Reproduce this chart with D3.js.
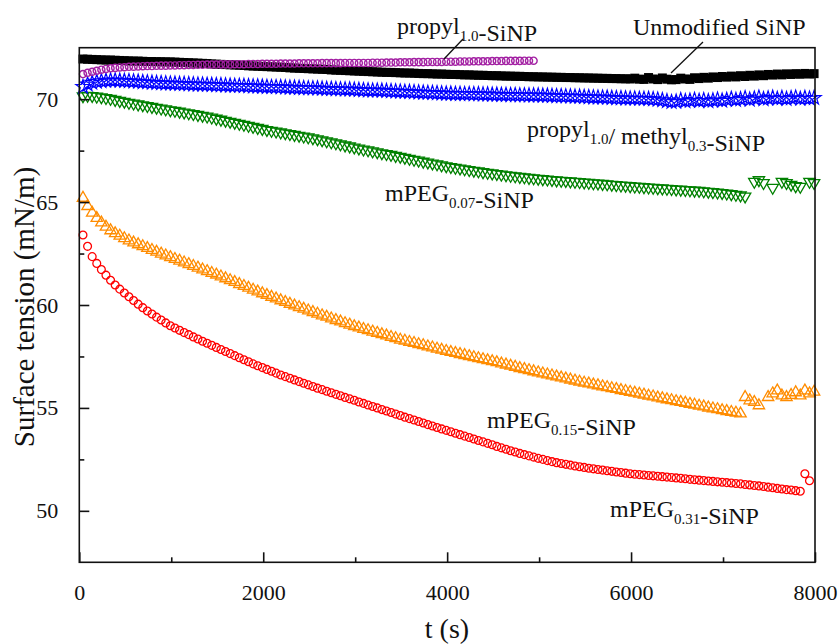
<!DOCTYPE html>
<html>
<head>
<meta charset="utf-8">
<script src="https://cdn.jsdelivr.net/npm/d3@7"></script>
<style>
  body { margin: 0; background: #fff; }
  svg text { font-family: "Liberation Serif", "Times New Roman", serif; fill: #111; }
</style>
</head>
<body>
<svg id="chart" width="840" height="644"></svg>
<script>
// ---- data: sample times start at T0 and advance by DT seconds ----
const T0 = 40;
const DT = 50;

// Unmodified SiNP (black filled squares)
const unmodified = [
71.95,71.94,71.93,71.92,71.91,71.90,71.90,71.89,71.88,71.87,
71.86,71.85,71.85,71.84,71.83,71.83,71.82,71.82,71.81,71.81,
71.80,71.79,71.78,71.77,71.76,71.75,71.74,71.73,71.71,71.70,
71.69,71.68,71.67,71.66,71.65,71.64,71.62,71.61,71.60,71.59,
71.58,71.57,71.56,71.55,71.54,71.52,71.51,71.50,71.49,71.48,
71.47,71.46,71.45,71.44,71.42,71.41,71.40,71.39,71.38,71.37,
71.36,71.35,71.34,71.33,71.32,71.31,71.30,71.30,71.29,71.28,
71.27,71.27,71.26,71.25,71.24,71.24,71.23,71.22,71.22,71.21,
71.20,71.20,71.19,71.18,71.18,71.17,71.16,71.16,71.15,71.14,
71.14,71.13,71.12,71.12,71.11,71.11,71.10,71.09,71.09,71.08,
71.08,71.07,71.07,71.06,71.06,71.05,71.05,71.04,71.04,71.03,
71.03,71.02,71.02,71.01,71.01,71.00,71.00,70.99,70.99,70.98,
71.02,70.97,70.96,71.05,70.98,70.95,71.03,70.97,70.94,70.95,
71.02,70.98,70.96,71.04,71.00,71.06,71.02,71.08,71.05,71.10,
71.07,71.12,71.08,71.14,71.10,71.16,71.12,71.18,71.14,71.20,
71.17,71.22,71.18,71.23,71.20,71.24,71.21,71.25,71.22,71.24
];

// propyl1.0-SiNP (purple open circles)
const propyl = [
71.22,71.28,71.33,71.38,71.43,71.47,71.50,71.52,71.54,71.55,
71.57,71.58,71.59,71.60,71.61,71.61,71.62,71.63,71.63,71.64,
71.64,71.65,71.65,71.66,71.66,71.67,71.67,71.68,71.68,71.68,
71.69,71.69,71.69,71.70,71.70,71.70,71.71,71.71,71.71,71.72,
71.72,71.72,71.72,71.73,71.73,71.73,71.73,71.74,71.74,71.74,
71.74,71.74,71.75,71.75,71.75,71.75,71.75,71.76,71.76,71.76,
71.76,71.76,71.76,71.77,71.77,71.77,71.78,71.78,71.78,71.79,
71.79,71.79,71.80,71.80,71.80,71.81,71.81,71.81,71.81,71.82,
71.82,71.82,71.83,71.83,71.83,71.84,71.84,71.84,71.84,71.85,
71.85,71.85,71.86,71.86,71.86,71.86,71.87,71.87,71.87
];

// propyl1.0/methyl0.3-SiNP (blue open stars)
const propylMethyl = [
70.60,70.72,70.80,70.85,70.88,70.90,70.91,70.91,70.90,70.89,
70.88,70.86,70.85,70.83,70.82,70.80,70.79,70.78,70.77,70.76,
70.75,70.74,70.74,70.73,70.72,70.71,70.71,70.70,70.69,70.68,
70.68,70.67,70.66,70.65,70.65,70.64,70.63,70.62,70.62,70.61,
70.60,70.59,70.59,70.58,70.57,70.56,70.56,70.55,70.54,70.53,
70.53,70.52,70.51,70.50,70.50,70.49,70.48,70.47,70.47,70.46,
70.45,70.44,70.43,70.42,70.42,70.41,70.40,70.39,70.38,70.37,
70.36,70.35,70.34,70.33,70.32,70.31,70.30,70.29,70.28,70.27,
70.27,70.26,70.26,70.25,70.25,70.24,70.24,70.23,70.23,70.22,
70.22,70.21,70.21,70.20,70.20,70.19,70.19,70.18,70.18,70.18,
70.17,70.17,70.16,70.15,70.15,70.14,70.13,70.12,70.12,70.11,
70.10,70.09,70.08,70.08,70.07,70.06,70.05,70.05,70.04,70.03,
70.03,70.02,70.02,70.01,70.00,69.98,69.95,69.90,69.86,69.88,
69.95,69.90,69.93,69.97,69.92,69.95,69.90,69.94,69.98,69.93,
69.97,70.02,69.96,70.00,70.05,69.98,70.03,70.08,70.00,70.04,
70.07,70.02,70.06,70.01,70.05,70.08,70.02,70.06,70.03,70.06
];

// mPEG0.07-SiNP (green open down-triangles)
const mpeg007 = [
70.15,70.17,70.16,70.13,70.10,70.06,70.02,69.97,69.92,69.88,
69.83,69.79,69.75,69.71,69.67,69.63,69.59,69.55,69.51,69.47,
69.44,69.40,69.36,69.32,69.28,69.24,69.20,69.16,69.11,69.06,
69.01,68.96,68.91,68.86,68.81,68.76,68.71,68.66,68.61,68.56,
68.51,68.47,68.43,68.39,68.35,68.31,68.27,68.23,68.19,68.15,
68.11,68.06,68.01,67.96,67.91,67.86,67.81,67.76,67.71,67.66,
67.61,67.56,67.52,67.47,67.43,67.38,67.34,67.30,67.25,67.21,
67.16,67.11,67.06,67.02,66.97,66.93,66.88,66.84,66.79,66.75,
66.71,66.67,66.64,66.60,66.56,66.53,66.50,66.46,66.43,66.40,
66.37,66.34,66.31,66.28,66.26,66.23,66.21,66.18,66.16,66.14,
66.12,66.10,66.08,66.06,66.04,66.03,66.01,65.99,65.98,65.96,
65.94,65.92,65.91,65.89,65.87,65.85,65.83,65.81,65.80,65.78,
65.76,65.75,65.73,65.71,65.70,65.68,65.67,65.65,65.64,65.62,
65.61,65.59,65.58,65.56,65.55,65.53,65.51,65.49,65.47,65.45,
65.42,65.39,65.36,65.33,65.28,null,65.99,66.07,65.93,null,
65.70,null,65.99,65.93,65.85,65.78,65.75,null,65.99,65.93
];

// mPEG0.15-SiNP (orange open up-triangles)
const mpeg015 = [
65.20,64.80,64.48,64.22,64.00,63.80,63.62,63.48,63.36,63.24,
63.13,63.03,62.94,62.85,62.76,62.67,62.58,62.49,62.40,62.32,
62.23,62.15,62.06,61.98,61.89,61.81,61.72,61.64,61.55,61.47,
61.38,61.29,61.20,61.11,61.01,60.92,60.83,60.74,60.65,60.56,
60.48,60.39,60.31,60.22,60.14,60.05,59.97,59.89,59.81,59.73,
59.65,59.57,59.49,59.42,59.34,59.26,59.19,59.11,59.04,58.96,
58.90,58.83,58.77,58.70,58.64,58.57,58.51,58.44,58.38,58.31,
58.26,58.20,58.15,58.09,58.04,57.98,57.93,57.87,57.82,57.76,
57.71,57.66,57.61,57.56,57.51,57.46,57.41,57.36,57.31,57.26,
57.21,57.15,57.10,57.04,56.99,56.93,56.88,56.83,56.77,56.72,
56.67,56.62,56.57,56.52,56.47,56.42,56.37,56.32,56.27,56.22,
56.18,56.13,56.09,56.04,56.00,55.95,55.91,55.86,55.82,55.77,
55.73,55.68,55.64,55.59,55.55,55.50,55.46,55.41,55.37,55.32,
55.28,55.24,55.19,55.15,55.10,55.06,55.01,54.97,54.93,54.88,
54.84,54.80,54.76,54.72,55.52,55.36,55.28,55.12,null,55.52,
55.70,55.84,55.60,55.52,55.62,55.75,55.60,55.84,55.70,55.78
];

// mPEG0.31-SiNP (red open circles)
const mpeg031 = [
63.40,62.85,62.35,62.02,61.72,61.45,61.20,60.97,60.77,60.58,
60.40,60.22,60.04,59.87,59.71,59.56,59.41,59.27,59.13,58.99,
58.88,58.77,58.66,58.56,58.45,58.35,58.24,58.14,58.04,57.94,
57.84,57.74,57.64,57.54,57.44,57.34,57.24,57.14,57.05,56.96,
56.87,56.78,56.69,56.60,56.52,56.44,56.36,56.28,56.20,56.12,
56.04,55.96,55.89,55.81,55.74,55.66,55.59,55.51,55.44,55.37,
55.29,55.22,55.14,55.07,55.00,54.92,54.85,54.78,54.70,54.63,
54.55,54.48,54.41,54.34,54.27,54.19,54.12,54.05,53.98,53.91,
53.84,53.77,53.70,53.63,53.56,53.49,53.42,53.35,53.28,53.21,
53.13,53.06,52.99,52.92,52.86,52.79,52.73,52.67,52.61,52.55,
52.50,52.44,52.39,52.34,52.30,52.26,52.22,52.18,52.14,52.11,
52.07,52.04,52.01,51.98,51.95,51.92,51.89,51.86,51.83,51.80,
51.78,51.76,51.74,51.72,51.70,51.68,51.66,51.64,51.62,51.60,
51.58,51.56,51.53,51.51,51.49,51.47,51.45,51.43,51.41,51.39,
51.37,51.35,51.33,51.31,51.28,51.26,51.23,51.21,51.18,51.15,
51.12,51.09,51.06,51.03,51.01,50.98,50.95,51.80,51.46
];

// axis ticks
const xMajorTicks = [0, 2000, 4000, 6000, 8000];
const xMinorTicks = [1000, 3000, 5000, 7000];
const yMajorTicks = [50, 55, 60, 65, 70];
const yMinorTicks = [52.5, 57.5, 62.5, 67.5];
const xDomain = [0, 8000];
const yDomain = [47.5, 72.5];

// ---- drawing ----
const svg = d3.select("#chart");
const margin = {left: 79.3, top: 47.7, right: 840 - 815, bottom: 644 - 562.3};
const W = 840 - margin.left - margin.right;
const H = 644 - margin.top - margin.bottom;

const x = d3.scaleLinear().domain(xDomain).range([0, W]);
const y = d3.scaleLinear().domain(yDomain).range([H, 0]);

const g = svg.append("g").attr("transform", `translate(${margin.left},${margin.top})`);

const series = [
  {name: "mpeg031", values: mpeg031, color: "#ff0000", sym: d3.symbolCircle, size: 48, rot: 0, fill: "none", sw: 1.3},
  {name: "mpeg015", values: mpeg015, color: "#ff8c00", sym: d3.symbolTriangle, size: 56, rot: 0, fill: "none", sw: 1.3},
  {name: "mpeg007", values: mpeg007, color: "#008000", sym: d3.symbolTriangle, size: 56, rot: 180, fill: "none", sw: 1.3},
  {name: "propylMethyl", values: propylMethyl, color: "#0000ff", sym: d3.symbolStar, size: 62, rot: 0, fill: "none", sw: 1.2},
  {name: "unmodified", values: unmodified, color: "#000000", sym: d3.symbolSquare, size: 81, rot: 0, fill: "#000000", sw: 0},
  {name: "propyl", values: propyl, color: "#a21fa2", sym: d3.symbolCircle, size: 40, rot: 0, fill: "none", sw: 1.4}
];

const plot = g.append("g");
series.forEach(s => {
  const pts = s.values.map((v, i) => ({t: T0 + i * DT, v})).filter(d => d.v !== null);
  const path = d3.symbol().type(s.sym).size(s.size)();
  plot.append("g").selectAll("path").data(pts).join("path")
    .attr("d", path)
    .attr("transform", d => `translate(${x(d.t)},${y(d.v)}) rotate(${s.rot})`)
    .attr("fill", s.fill)
    .attr("stroke", s.sw > 0 ? s.color : "none")
    .attr("stroke-width", s.sw);
});

// frame
g.append("rect").attr("x", 0).attr("y", 0).attr("width", W).attr("height", H)
  .attr("fill", "none").attr("stroke", "#111").attr("stroke-width", 1.6);

// axes (ticks inward)
const xAx = g.append("g").attr("transform", `translate(0,${H})`);
xAx.call(d3.axisBottom(x).tickValues(xMajorTicks).tickSize(-10).tickPadding(22).tickFormat(d3.format("d")));
xAx.append("g").call(d3.axisBottom(x).tickValues(xMinorTicks).tickSize(-5).tickFormat(""));
const yAx = g.append("g");
yAx.call(d3.axisLeft(y).tickValues(yMajorTicks).tickSize(-10).tickPadding(21).tickFormat(d3.format("d")));
yAx.append("g").call(d3.axisLeft(y).tickValues(yMinorTicks).tickSize(-5).tickFormat(""));
g.selectAll(".domain").remove();
g.selectAll(".tick line").attr("stroke", "#111").attr("stroke-width", 1.6);
g.selectAll(".tick text").attr("font-size", 22).attr("font-family", "Liberation Serif").attr("fill", "#111");

// axis titles
svg.append("text").attr("transform", "translate(34,307) rotate(-90)")
  .attr("text-anchor", "middle").attr("font-size", 29).text("Surface tension (mN/m)");
svg.append("text").attr("x", 447).attr("y", 638)
  .attr("text-anchor", "middle").attr("font-size", 28).text("t (s)");

// annotations with subscripts
function label(px, py, parts, fs) {
  const t = svg.append("text").attr("x", px).attr("y", py).attr("font-size", fs || 24);
  parts.forEach(p => {
    if (p.sub) {
      t.append("tspan").attr("font-size", 15).attr("dy", 7).text(p.sub);
      t.append("tspan").attr("dy", -7).text("");
    } else {
      t.append("tspan").text(p.txt);
    }
  });
}
label(397, 34, [{txt: "propyl"}, {sub: "1.0"}, {txt: "-SiNP"}]);
label(633, 35, [{txt: "Unmodified SiNP"}]);
label(527, 137, [{txt: "propyl"}, {sub: "1.0"}, {txt: "/ methyl"}, {sub: "0.3"}, {txt: "-SiNP"}]);
label(385, 201, [{txt: "mPEG"}, {sub: "0.07"}, {txt: "-SiNP"}]);
label(487, 428, [{txt: "mPEG"}, {sub: "0.15"}, {txt: "-SiNP"}]);
label(610, 517, [{txt: "mPEG"}, {sub: "0.31"}, {txt: "-SiNP"}]);

// leader lines
svg.append("line").attr("x1", 463).attr("y1", 39).attr("x2", 444).attr("y2", 59)
  .attr("stroke", "#111").attr("stroke-width", 1.3);
svg.append("line").attr("x1", 703).attr("y1", 42).attr("x2", 671).attr("y2", 73)
  .attr("stroke", "#111").attr("stroke-width", 1.3);
</script>
</body>
</html>
